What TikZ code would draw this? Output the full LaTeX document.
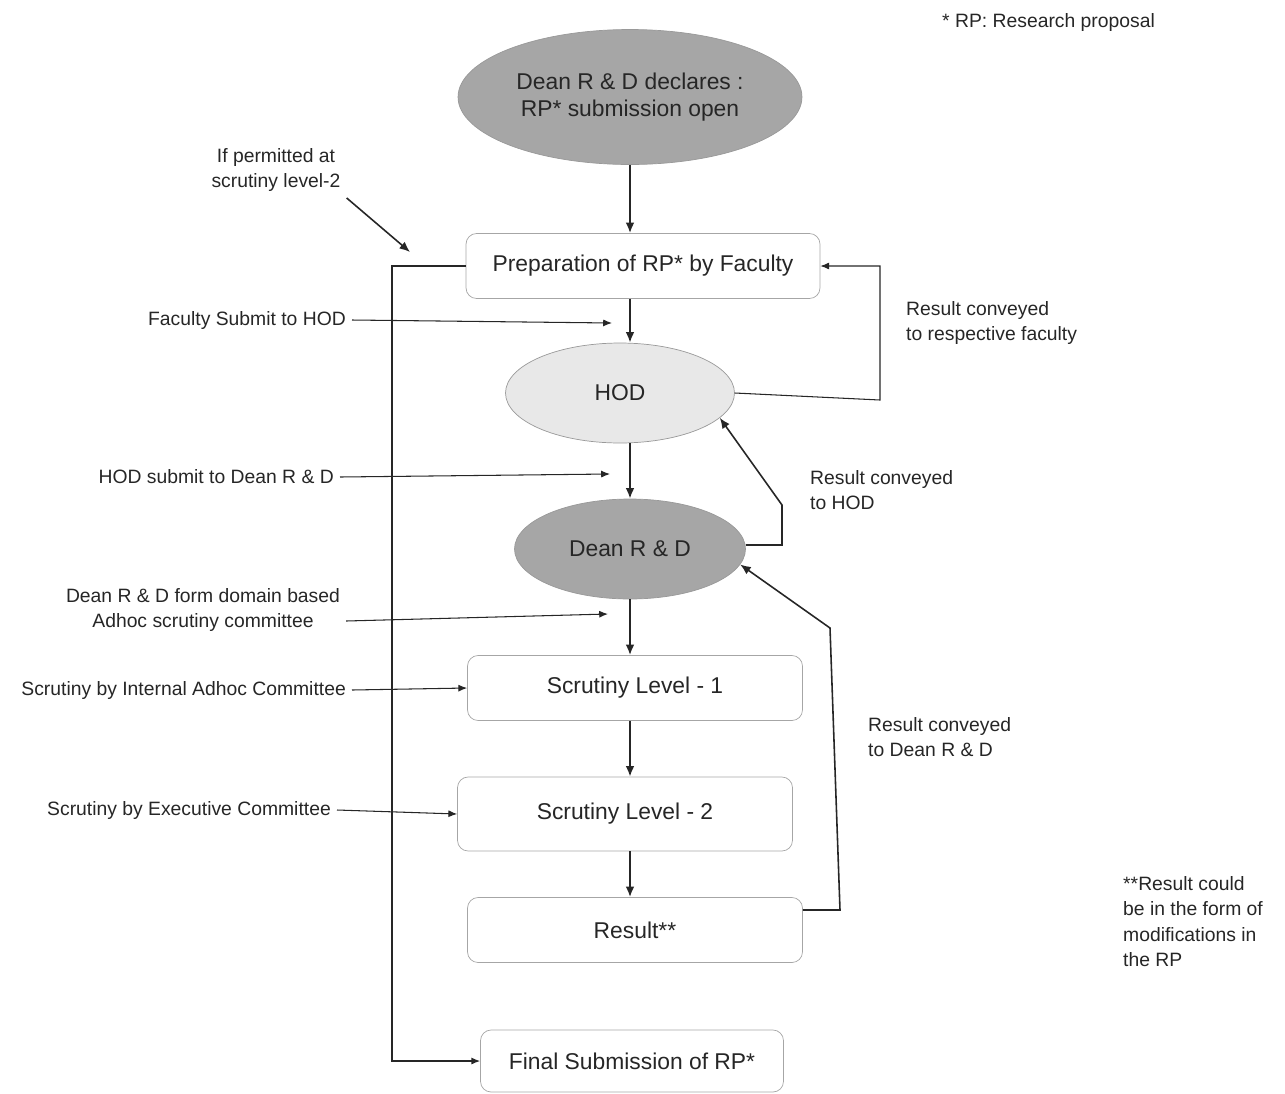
\documentclass[tikz,border=0pt]{standalone}
\usepackage{fontspec}
\setmainfont{Liberation Sans}
\usetikzlibrary{shapes.geometric,arrows.meta}
\begin{document}
\begin{tikzpicture}[x=0.02cm,y=-0.02cm,color=black!85]
\tikzstyle{lien}=[-{Latex[length=6pt,width=5pt]},line width=1.1pt]
\tikzstyle{renvoi}=[-{Latex[length=5pt,width=4pt]},semithick]
\tikzset{bulle/.style={ellipse,draw=black!40,fill=#1,inner sep=0pt,align=center,font=\fontsize{13}{15.5}\selectfont},
bulle/.default={black!35},
etape/.style={draw=black!35,rounded corners=6pt,minimum height=1.3cm,inner sep=0pt,font=\fontsize{13}{15}\selectfont},
note/.style={align=left,font=\fontsize{11}{14.5}\selectfont}}
\useasboundingbox (0,0) rectangle (1285,1093);

\node[bulle,minimum width=6.88cm,minimum height=2.7cm] (D0) at (630,97) {Dean R \& D declares :\\RP* submission open};
\node[etape,minimum width=7.08cm] (P) at (643,266) {Preparation of RP* by Faculty};
\node[bulle=black!9,minimum width=4.58cm,minimum height=2cm] (H) at (620,393) {HOD};
\node[bulle,minimum width=4.62cm,minimum height=2cm] (D) at (630,549) {Dean R \& D};
\node[etape,minimum width=6.7cm] (S1) at (635,688) {Scrutiny Level - 1};
\node[etape,minimum width=6.7cm,minimum height=1.48cm] (S2) at (625,814) {Scrutiny Level - 2};
\node[etape,minimum width=6.7cm] (R) at (635,930) {Result**};
\node[etape,minimum width=6.06cm,minimum height=1.24cm] (F) at (632,1061) {Final Submission of RP*};

% main line
\coordinate (axe) at (630,0);
\draw[lien] (axe |- D0.south) -- (axe |- P.north);
\draw[lien] (axe |- P.south) -- (axe |- H.north);
\draw[lien] (axe |- H.south) -- (axe |- D.north);
\draw[lien] (axe |- D.south) -- (axe |- S1.north);
\draw[lien] (axe |- S1.south) -- (axe |- S2.north);
\draw[lien] (axe |- S2.south) -- (axe |- R.north);

% notes on the left
\node[note,align=center] (n1) at (276,170) {If permitted at\\scrutiny level-2};
\coordinate (n1b) at (410,252);
\draw[lien,line width=0.9pt] (n1.south east) -- (n1b);
\node[note,anchor=east] (n2) at (352,320) {Faculty Submit to HOD};
\coordinate (n2b) at (612,323);
\draw[renvoi] (n2.east) -- (n2b);
\node[note,anchor=east] (n3) at (340,477) {HOD submit to Dean R \& D};
\coordinate (n3b) at (610,474);
\draw[renvoi] (n3.east) -- (n3b);
\node[note,align=center] (n4) at (203,610) {Dean R \& D form domain based\\Adhoc scrutiny committee};
\coordinate (n4b) at (608,614);
\draw[renvoi] (n4.east |- 0,621) -- (n4b);
\node[note,anchor=east] (n5) at (352,690) {Scrutiny by Internal  Adhoc Committee};
\draw[renvoi] (n5.east) -- (S1.west);
\node[note,anchor=east] (n6) at (337,810) {Scrutiny by Executive  Committee};
\draw[renvoi] (n6.east) -- (S2.west);

% results going back
\coordinate (k1) at (880,266);
\coordinate (k1b) at (880,400);
\draw[renvoi] (H.east) -- (k1b) -- (k1) -- (P.east);
\coordinate (k2) at (782,545);
\coordinate (k2b) at (782,505);
\draw[lien,line width=0.9pt] (D.east |- k2) -- (k2) -- (k2b) -- (H.-14);
\coordinate (k3a) at (840,910);
\coordinate (k3b) at (830,628);
\draw[lien,line width=0.9pt] (R.east |- k3a) -- (k3a) -- (k3b) -- (D.-8);
\coordinate (k4) at (392,266);
\draw[renvoi,line width=0.7pt] (P.west) -- (k4) |- (F.west);

\node[note,anchor=west] (t1) at (900,323) {Result conveyed\\to respective faculty};
\node[note,anchor=west] (t2) at (804,490) {Result conveyed\\to HOD};
\node[note,anchor=west] (t3) at (862,737) {Result conveyed\\to Dean R \& D};
\node[note,anchor=west] (t4) at (936,22) {* RP: Research proposal};
\node[note,anchor=north west] (t5) at (1117,870) {**Result could\\be in the form of\\modifications in\\the RP};
\end{tikzpicture}
\end{document}
